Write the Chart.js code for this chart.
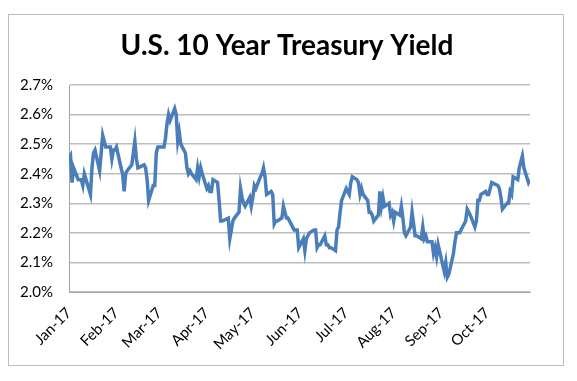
<!DOCTYPE html>
<html>
<head>
<meta charset="utf-8">
<script src="https://cdn.jsdelivr.net/npm/chart.js@4.4.1/dist/chart.umd.min.js"></script>
<style>
    body { margin: 0; background: #fff; }
    #wrap { position: absolute; left: 0; top: 0; width: 577px; height: 381px; }
    #frame { position: absolute; left: 8px; top: 14px; width: 554px; height: 350px; border: 1px solid #bdbdbd; pointer-events: none; }
</style>
</head>
<body>
<div id="wrap"><canvas id="chart-1" width="577" height="381"></canvas></div>
<div id="frame"></div>
<script>
const dates = [
    '1/3','1/4','1/5','1/6','1/9','1/10','1/11','1/12','1/13','1/17','1/18','1/19','1/20','1/23','1/24','1/25','1/26','1/27','1/30','1/31',
    '2/1','2/2','2/3','2/6','2/7','2/8','2/9','2/10','2/13','2/14','2/15','2/16','2/17','2/21','2/22','2/23','2/24','2/27','2/28',
    '3/1','3/2','3/3','3/6','3/7','3/8','3/9','3/10','3/13','3/14','3/15','3/16','3/17','3/20','3/21','3/22','3/23','3/24','3/27','3/28','3/29','3/30','3/31',
    '4/3','4/4','4/5','4/6','4/7','4/10','4/11','4/12','4/13','4/17','4/18','4/19','4/20','4/21','4/24','4/25','4/26','4/27','4/28',
    '5/1','5/2','5/3','5/4','5/5','5/8','5/9','5/10','5/11','5/12','5/15','5/16','5/17','5/18','5/19','5/22','5/23','5/24','5/25','5/26','5/30','5/31',
    '6/1','6/2','6/5','6/6','6/7','6/8','6/9','6/12','6/13','6/14','6/15','6/16','6/19','6/20','6/21','6/22','6/23','6/26','6/27','6/28','6/29','6/30',
    '7/3','7/5','7/6','7/7','7/10','7/11','7/12','7/13','7/14','7/17','7/18','7/19','7/20','7/21','7/24','7/25','7/26','7/27','7/28','7/31',
    '8/1','8/2','8/3','8/4','8/7','8/8','8/9','8/10','8/11','8/14','8/15','8/16','8/17','8/18','8/21','8/22','8/23','8/24','8/25','8/28','8/29','8/30','8/31',
    '9/1','9/5','9/6','9/7','9/8','9/11','9/12','9/13','9/14','9/15','9/18','9/19','9/20','9/21','9/22','9/25','9/26','9/27','9/28','9/29',
    '10/2','10/3','10/4','10/5','10/6','10/10','10/11','10/12','10/13','10/16','10/17','10/18','10/19','10/20','10/23','10/24','10/25','10/26','10/27','10/30','10/31'
];

const yields = [
    2.45,2.46,2.37,2.42,2.38,2.38,2.38,2.36,2.40,2.33,2.42,2.47,2.48,2.41,2.47,2.53,2.51,2.49,2.49,2.45,
    2.48,2.48,2.49,2.42,2.40,2.34,2.40,2.41,2.43,2.47,2.51,2.45,2.42,2.43,2.42,2.38,2.31,2.36,2.36,
    2.47,2.49,2.49,2.49,2.52,2.57,2.60,2.58,2.62,2.60,2.51,2.54,2.50,2.47,2.42,2.40,2.41,2.40,2.38,2.42,2.39,2.42,2.40,
    2.35,2.36,2.34,2.34,2.38,2.37,2.31,2.24,2.24,2.25,2.18,2.21,2.24,2.25,2.27,2.35,2.32,2.30,2.29,
    2.32,2.29,2.32,2.36,2.35,2.39,2.40,2.42,2.39,2.33,2.34,2.33,2.23,2.24,2.24,2.25,2.29,2.27,2.25,2.25,2.21,2.21,
    2.21,2.15,2.18,2.14,2.18,2.19,2.20,2.21,2.21,2.15,2.16,2.16,2.19,2.16,2.16,2.15,2.15,2.14,2.21,2.22,2.27,2.31,
    2.35,2.33,2.37,2.39,2.38,2.37,2.33,2.35,2.33,2.31,2.27,2.27,2.26,2.24,2.26,2.34,2.29,2.32,2.29,2.30,
    2.26,2.27,2.24,2.27,2.26,2.29,2.25,2.20,2.19,2.22,2.27,2.23,2.19,2.19,2.18,2.22,2.18,2.19,2.17,2.17,2.13,2.15,2.12,
    2.16,2.07,2.10,2.05,2.06,2.13,2.17,2.20,2.20,2.20,2.23,2.24,2.28,2.27,2.26,2.22,2.24,2.31,2.31,2.33,
    2.34,2.33,2.33,2.35,2.37,2.36,2.35,2.32,2.28,2.30,2.30,2.34,2.33,2.39,2.38,2.42,2.44,2.46,2.42,2.37,2.38
];

const monthTicks = ['1/3','2/3','3/3','4/3','5/3','6/3','7/3','8/3','9/3','10/3'];
const monthLabels = ['Jan-17','Feb-17','Mar-17','Apr-17','May-17','Jun-17','Jul-17','Aug-17','Sep-17','Oct-17'];
const yTicks = [2.0, 2.1, 2.2, 2.3, 2.4, 2.5, 2.6, 2.7];
const titleText = 'U.S. 10 Year Treasury Yield';

// day of year (Jan 1 = 0) for a 'M/D' string in 2017
function dayNum(s) {
    const offs = [0,31,59,90,120,151,181,212,243,273,304,334];
    const p = s.split('/');
    return offs[parseInt(p[0]) - 1] + parseInt(p[1]) - 1;
}

let pts = [];
for (let i = 0; i < dates.length; i++) {
    pts.push({ x: dayNum(dates[i]), y: yields[i] });
}

const font = "Lato, 'Liberation Sans', sans-serif";

// the title sits centred on the whole frame, not on the padded chart box
const titlePlugin = {
    id: 'frameTitle',
    afterDraw: function (chart) {
        const c = chart.ctx;
        c.save();
        c.fillStyle = '#000';
        c.font = 'bold 28px ' + font;
        c.textAlign = 'center';
        c.textBaseline = 'alphabetic';
        c.fillText(titleText, 287, 54.5);
        c.restore();
    }
};

const ctx = document.getElementById('chart-1').getContext('2d');
const chart = new Chart(ctx, {
    type: 'line',
    data: {
        datasets: [{
            label: titleText,
            data: pts,
            borderColor: '#4a7ebb',
            borderWidth: 3.5,
            pointRadius: 0,
            tension: 0,
            fill: false
        }]
    },
    plugins: [titlePlugin],
    options: {
        responsive: false,
        animation: false,
        layout: { padding: { left: 0, right: 47, top: 85, bottom: 0 } },
        plugins: {
            legend: { display: false },
            tooltip: { enabled: false },
            title: { display: false }
        },
        scales: {
            x: {
                type: 'linear',
                min: dayNum(dates[0]),
                max: dayNum(dates[dates.length - 1]),
                grid: { display: false, drawTicks: false },
                border: { display: true, color: '#a6a6a6', width: 1 },
                afterBuildTicks: function (axis) {
                    axis.ticks = monthTicks.map(m => ({ value: dayNum(m) }));
                },
                afterFit: function (axis) { axis.height = 89; },
                ticks: {
                    autoSkip: false,
                    maxRotation: 45,
                    minRotation: 45,
                    padding: 12,
                    color: '#000',
                    font: { family: font, size: 15 },
                    callback: function (v, i) { return monthLabels[i]; }
                }
            },
            y: {
                min: 2.0,
                max: 2.7,
                grid: { color: '#bdbdbd', lineWidth: 1.5, drawTicks: false },
                border: { display: true, color: '#a6a6a6', width: 1 },
                afterBuildTicks: function (axis) {
                    axis.ticks = yTicks.map(v => ({ value: v }));
                },
                afterFit: function (axis) { axis.width = 69; },
                ticks: {
                    padding: 16,
                    color: '#000',
                    font: { family: font, size: 15 },
                    callback: function (v) { return v.toFixed(1) + '%'; }
                }
            }
        }
    }
});
</script>
</body>
</html>
